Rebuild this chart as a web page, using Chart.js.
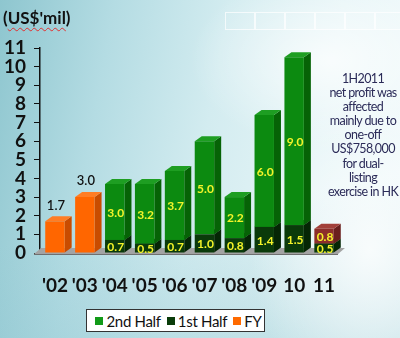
<!DOCTYPE html>
<html>
<head>
<meta charset="utf-8">
<script src="https://cdn.jsdelivr.net/npm/chart.js@4.4.1/dist/chart.umd.min.js"></script>
<style>
  html, body { margin: 0; padding: 0; }
  body { width: 400px; height: 338px; overflow: hidden; font-family: Lato, "DejaVu Sans", sans-serif; }
  #wrap {
    position: relative; width: 400px; height: 338px;
    background:
      radial-gradient(ellipse 140px 90px at 330px 60px, rgba(255,255,255,0.75), rgba(255,255,255,0) 100%),
      radial-gradient(ellipse 120px 160px at 370px 250px, rgba(255,255,255,0.8), rgba(255,255,255,0) 100%),
      linear-gradient(170deg, rgba(255,255,255,0) 60%, rgba(120,185,198,0.35) 100%),
      linear-gradient(100deg, #8ec6cf 0%, #b4dce3 25%, #d3ecf0 50%, #e6f5f7 75%, #f2fafb 100%);
  }
  #chart { position: absolute; left: 0; top: 0; }
  #unit {
    position: absolute; left: 3px; top: 7px; font-weight: bold; font-size: 17px; color: #111;
  }
  #unit span { text-decoration: underline wavy #e03030; text-decoration-thickness: 1px; text-underline-offset: 3px; }
  #note {
    position: absolute; left: 323px; top: 72px; width: 80px; text-align: center;
    font-size: 12.5px; line-height: 14.1px; color: #2b2b58; letter-spacing: -0.6px;
  }
  #nav { position: absolute; left: 225px; top: 12px; display: flex; }
  #nav div { width: 28px; height: 16px; border: 1px solid rgba(255,255,255,0.7); }
  #legend {
    position: absolute; left: 86px; top: 309px; width: 179px; height: 23px;
    background: #fff; border: 1px solid #333; box-sizing: border-box;
    display: flex; align-items: center; justify-content: center;
    font-size: 15px; color: #111; letter-spacing: -0.3px;
  }
  #legend i { display: inline-block; width: 8px; height: 8px; margin: 0 3px 0 6px; }
</style>
</head>
<body>
<div id="wrap">
  <div id="nav"><div></div><div></div><div></div><div></div><div></div><div></div></div>
  <canvas id="chart" width="400" height="338"></canvas>
  <div id="unit">(<span>US$'mil</span>)</div>
  <div id="note">1H2011<br>net profit was<br>affected<br>mainly due to<br>one-off<br>US$758,000<br>for dual-<br>listing<br>exercise in HK</div>
  <div id="legend"><i style="background:#129a18"></i>2nd Half<i style="background:#0a3c0a"></i>1st Half<i style="background:#ff6a00"></i>FY</div>
</div>
<script>
const years = ["'02", "'03", "'04", "'05", "'06", "'07", "'08", "'09", "10", "11"];
const fullYear = [1.7, 3.0, null, null, null, null, null, null, null, null];
const firstHalf = [null, null, 0.7, 0.5, 0.7, 1.0, 0.8, 1.4, 1.5, 0.5];
const secondHalf = [null, null, 3.0, 3.2, 3.7, 5.0, 2.2, 6.0, 9.0, 0.8];
const yTicks = [0, 1, 2, 3, 4, 5, 6, 7, 8, 9, 10, 11];

// front, side, top colours per dataset
const shades = {
  fy: ['#ff6600', '#c94c00', '#ff7d24'],
  first: ['#0a3a0a', '#052605', '#0f4a0f'],
  second: ['#0c8a10', '#066306', '#1e9e22'],
  brown: ['#8c2e2a', '#6a1f1d', '#a2403a']
};
const secondFront = secondHalf.map((v, i) => i === 9 ? shades.brown[0] : shades.second[0]);

const DX = 7, DY = 5;

const poly = (ctx, pts, color) => {
  ctx.beginPath();
  ctx.moveTo(pts[0][0], pts[0][1]);
  pts.slice(1).forEach(p => ctx.lineTo(p[0], p[1]));
  ctx.closePath();
  ctx.fillStyle = color;
  ctx.fill();
};

const depthPlugin = {
  id: 'depth',
  beforeDatasetsDraw(chart) {
    const ctx = chart.ctx;
    const x = chart.scales.x, y = chart.scales.y;
    const y0 = y.getPixelForValue(0);
    ctx.save();
    // floor
    poly(ctx, [[x.left - 6, y0 + 1], [x.right - 1, y0 + 1], [x.right + DX - 1, y0 - DY], [x.left + 1, y0 - DY]], '#a3a3a3');
    poly(ctx, [[x.left - 6, y0 + 1], [x.right - 1, y0 + 1], [x.right - 1, y0 + 2], [x.left - 6, y0 + 2]], '#6f6f6f');
    chart.data.datasets.forEach((ds, di) => {
      const meta = chart.getDatasetMeta(di);
      meta.data.forEach((bar, i) => {
        if (ds.data[i] == null) return;
        const p = bar.getProps(['x', 'y', 'base', 'width'], true);
        const l = p.x - p.width / 2, r = p.x + p.width / 2;
        const sh = ds.shades[i];
        poly(ctx, [[r, p.y], [r + DX, p.y - DY], [r + DX, p.base - DY], [r, p.base]], sh[1]);
        poly(ctx, [[l, p.y], [l + DX, p.y - DY], [r + DX, p.y - DY], [r, p.y]], sh[2]);
      });
    });
    ctx.restore();
  }
};

const labelPlugin = {
  id: 'valueLabels',
  afterDatasetsDraw(chart) {
    const ctx = chart.ctx;
    ctx.save();
    ctx.textAlign = 'center';
    ctx.textBaseline = 'middle';
    chart.data.datasets.forEach((ds, di) => {
      const meta = chart.getDatasetMeta(di);
      meta.data.forEach((bar, i) => {
        const v = ds.data[i];
        if (v == null) return;
        const p = bar.getProps(['x', 'y', 'base'], true);
        const txt = v.toFixed(1);
        if (ds.label === 'FY') {
          ctx.font = '600 13px Lato, sans-serif';
          ctx.fillStyle = '#111';
          ctx.fillText(txt, p.x + 1, p.y - 16);
        } else {
          ctx.font = 'bold 12px Lato, sans-serif';
          ctx.fillStyle = '#f4f42a';
          ctx.fillText(txt, p.x + 1, (p.y + p.base) / 2 + 1);
        }
      });
    });
    ctx.restore();
  }
};

const tickFont = { family: 'Lato, sans-serif', size: 19, weight: 'bold' };

new Chart(document.getElementById('chart'), {
  type: 'bar',
  data: {
    labels: years,
    datasets: [
      { label: 'FY', data: fullYear, backgroundColor: shades.fy[0], shades: years.map(() => shades.fy) },
      { label: '1st Half', data: firstHalf, backgroundColor: shades.first[0], shades: years.map(() => shades.first) },
      { label: '2nd Half', data: secondHalf, backgroundColor: secondFront,
        shades: years.map((c, i) => i === 9 ? shades.brown : shades.second) }
    ]
  },
  options: {
    responsive: false,
    animation: false,
    layout: { padding: { left: 0, right: 61, top: 48, bottom: 44 } },
    datasets: { bar: { categoryPercentage: 1, barPercentage: 0.65, borderWidth: 0 } },
    plugins: { legend: { display: false }, tooltip: { enabled: false } },
    scales: {
      x: {
        stacked: true,
        grid: { display: false, drawTicks: false },
        border: { display: false },
        ticks: { color: '#111', font: tickFont, padding: 21, autoSkip: false, maxRotation: 0, minRotation: 0 },
        afterFit: s => { s.height = 41; }
      },
      y: {
        stacked: true,
        min: 0,
        max: 11,
        afterBuildTicks: s => { s.ticks = yTicks.map(v => ({ value: v })); },
        grid: { drawOnChartArea: false, tickLength: 6, color: '#111', lineWidth: 1 },
        border: { color: '#111', width: 1.5 },
        ticks: { color: '#111', font: tickFont, padding: 8, autoSkip: false },
        afterFit: s => { s.width = 40; }
      }
    }
  },
  plugins: [depthPlugin, labelPlugin]
});
</script>
</body>
</html>
